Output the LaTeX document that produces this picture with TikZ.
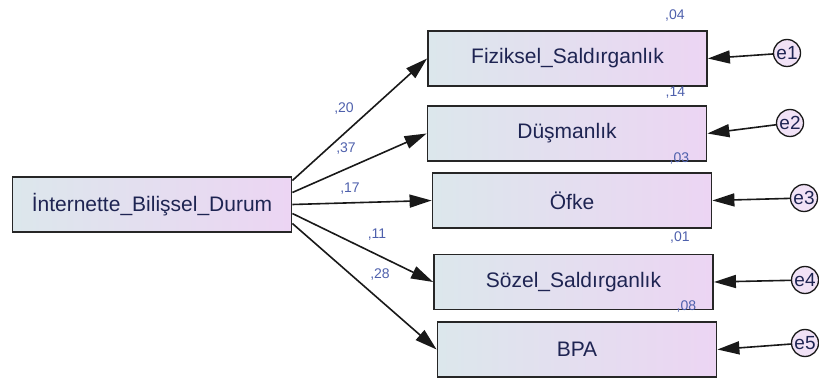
\documentclass[tikz,border=0pt]{standalone}
\usepackage{fontspec}
\setmainfont{Liberation Sans}
\usetikzlibrary{arrows.meta}
\definecolor{boxleft}{RGB}{220,231,236}
\definecolor{boxright}{RGB}{236,213,243}
\definecolor{errfill}{RGB}{241,226,246}
\definecolor{vartext}{RGB}{30,36,82}
\definecolor{coeftext}{RGB}{78,96,172}
\begin{document}
\begin{tikzpicture}[x=1pt, y=-1pt,
	varbox/.style={draw=black!85, line width=1.8pt, left color=boxleft, right color=boxright,
		minimum width=279pt, minimum height=55pt, inner sep=0pt,
		text=vartext, font=\fontsize{21}{25}\selectfont},
	errnode/.style={circle, draw=black!90, line width=1.3pt, fill=errfill, minimum size=27pt,
		inner sep=0pt, text=vartext, font=\fontsize{19}{22}\selectfont},
	coef/.style={text=coeftext, inner sep=0pt, font=\fontsize{14}{16}\selectfont},
	path/.style={draw=black!90, line width=1.6pt, -{Triangle[length=22pt, width=13pt]}}]
\useasboundingbox (0,0) rectangle (819,379);
	\node (I) [varbox] at (152,204.5) {İnternette\_Bilişsel\_Durum};
	\node (FS) [varbox] at (567.5,58.5) {Fiziksel\_Saldırganlık};
	\node (D) [varbox] at (567,133.5) {Düşmanlık};
	\node (O) [varbox] at (572,200.5) {Öfke};
	\node (SS) [varbox] at (573.5,282) {Sözel\_Saldırganlık};
	\node (B) [varbox] at (577,349.5) {BPA};
	\node (e1) [errnode] at (787,53) {e1};
	\node (e2) [errnode] at (790,123) {e2};
	\node (e3) [errnode] at (804,198) {e3};
	\node (e4) [errnode] at (805,280) {e4};
	\node (e5) [errnode] at (805,343) {e5};
	% regression paths
	\draw [path] ([yshift=24pt]I.east) to (FS.west);
	\draw [path] ([yshift=12pt]I.east) to (D.west);
	\draw [path] ([yshift=0pt]I.east) to (O.west);
	\draw [path] ([yshift=-9pt]I.east) to (SS.west);
	\draw [path] ([yshift=-19pt]I.east) to (B.west);
	\node [coef] at (344,109) {,20};
	\node [coef] at (346,149) {,37};
	\node [coef] at (350,189) {,17};
	\node [coef] at (377,235) {,11};
	\node [coef] at (380,275) {,28};
	% errors
	\draw [path] (e1) to (FS.east);
	\draw [path] (e2) to (D.east);
	\draw [path] (e3) to (O.east);
	\draw [path] (e4) to (SS.east);
	\draw [path] (e5) to (B.east);
	% squared multiple correlations
	\node [coef] at ([xshift=-33pt, yshift=15pt]FS.north east) {,04};
	\node [coef] at ([xshift=-32pt, yshift=13pt]D.north east) {,14};
	\node [coef] at ([xshift=-33pt, yshift=14pt]O.north east) {,03};
	\node [coef] at ([xshift=-34pt, yshift=16pt]SS.north east) {,01};
	\node [coef] at ([xshift=-31pt, yshift=15pt]B.north east) {,08};
\end{tikzpicture}
\end{document}
